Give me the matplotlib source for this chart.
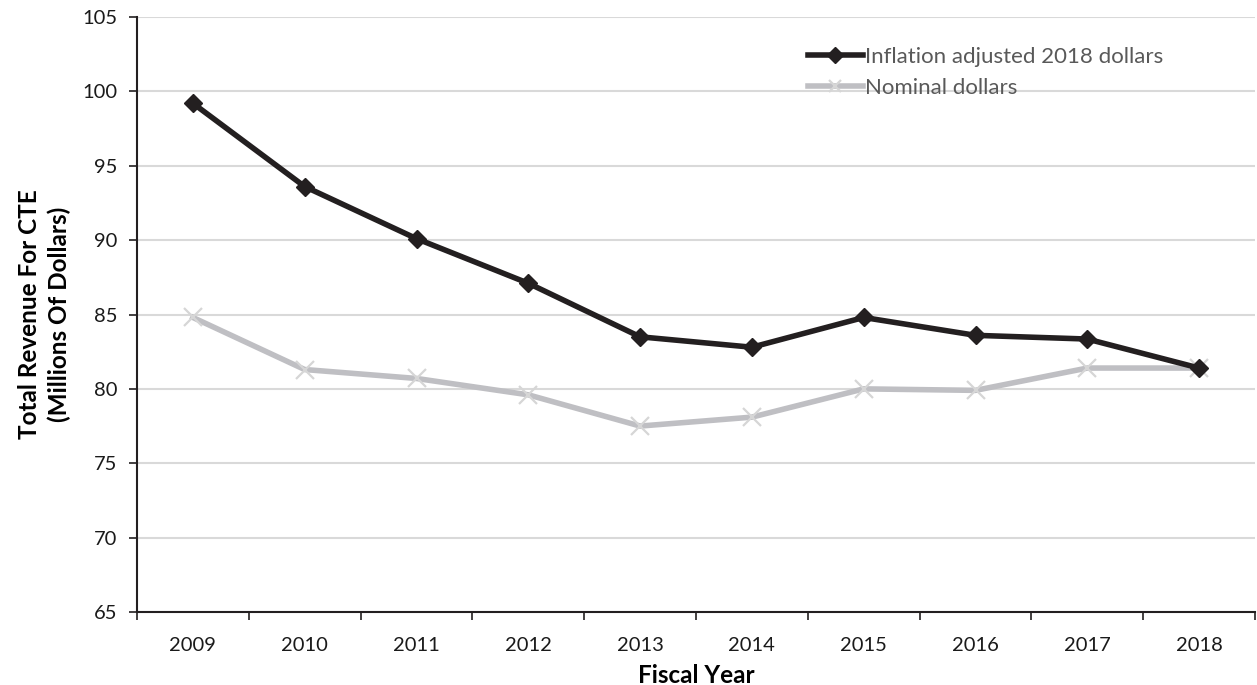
import matplotlib
matplotlib.use("Agg")
import matplotlib.pyplot as plt
import numpy as np

years = ["2009", "2010", "2011", "2012", "2013", "2014", "2015", "2016", "2017", "2018"]
inflation_adjusted = [99.2, 93.6, 90.1, 87.1, 83.5, 82.8, 84.8, 83.6, 83.35, 81.4]
nominal = [84.8, 81.3, 80.7, 79.6, 77.5, 78.1, 80.0, 79.9, 81.4, 81.4]
yticks = [65, 70, 75, 80, 85, 90, 95, 100, 105]

plt.rcParams['font.family'] = ['Lato', 'DejaVu Sans']

fig = plt.figure(figsize=(12.57, 6.85), dpi=100)
ax = fig.add_axes([137/1257, (685-612)/685, (1255-137)/1257, (612-17)/685])

x = np.arange(len(years))
ax.plot(x, nominal, color='#bfbfc3', lw=4, marker='x', markersize=13,
        markeredgecolor='#d6d6d6', markeredgewidth=1.6, label='Nominal dollars', zorder=3)
ax.plot(x, inflation_adjusted, color='#231f20', lw=4, marker='D', markersize=9.5,
        markerfacecolor='#231f20', markeredgecolor='#231f20', label='Inflation adjusted 2018 dollars', zorder=4)

ax.set_xlim(-0.5, len(years) - 0.5)
ax.set_ylim(65, 105)
ax.set_yticks(yticks)
ax.set_yticklabels([str(v) for v in yticks], fontsize=14.5, color='#1a1a1a')
ax.set_xticks(x)
ax.set_xticklabels(years, fontsize=14.5, color='#1a1a1a')
ax.tick_params(axis='x', which='major', length=0, pad=18)
ax.set_xticks(np.arange(-0.5, len(years), 1.0), minor=True)
ax.tick_params(axis='x', which='minor', length=6, width=1.2, color='#231f20', direction='out')
ax.tick_params(axis='y', which='major', length=6, width=1.2, color='#231f20', direction='out', pad=8)

ax.grid(axis='y', color='#d9d9d9', lw=1.5, zorder=0)
ax.set_axisbelow(True)
for s in ['top', 'right']:
    ax.spines[s].set_visible(False)
for s in ['left', 'bottom']:
    ax.spines[s].set_color('#231f20')
    ax.spines[s].set_linewidth(1.5)

ax.set_xlabel('Fiscal Year', fontsize=17.5, fontweight='bold', labelpad=7)
ax.set_ylabel('Total Revenue For CTE\n(Millions Of Dollars)', fontsize=17.5, fontweight='bold',
              labelpad=8, linespacing=1.35)

handles, labels = ax.get_legend_handles_labels()
leg = ax.legend(handles[::-1], labels[::-1], loc='upper left', bbox_to_anchor=(0.582, 0.983),
                frameon=False, fontsize=16, handlelength=2.5, handletextpad=0.08,
                labelspacing=0.5, labelcolor='#595959')
leg.legend_handles[0].set_markersize(8)
leg.legend_handles[1].set_markersize(9)

fig.savefig('out.png', dpi=100)
